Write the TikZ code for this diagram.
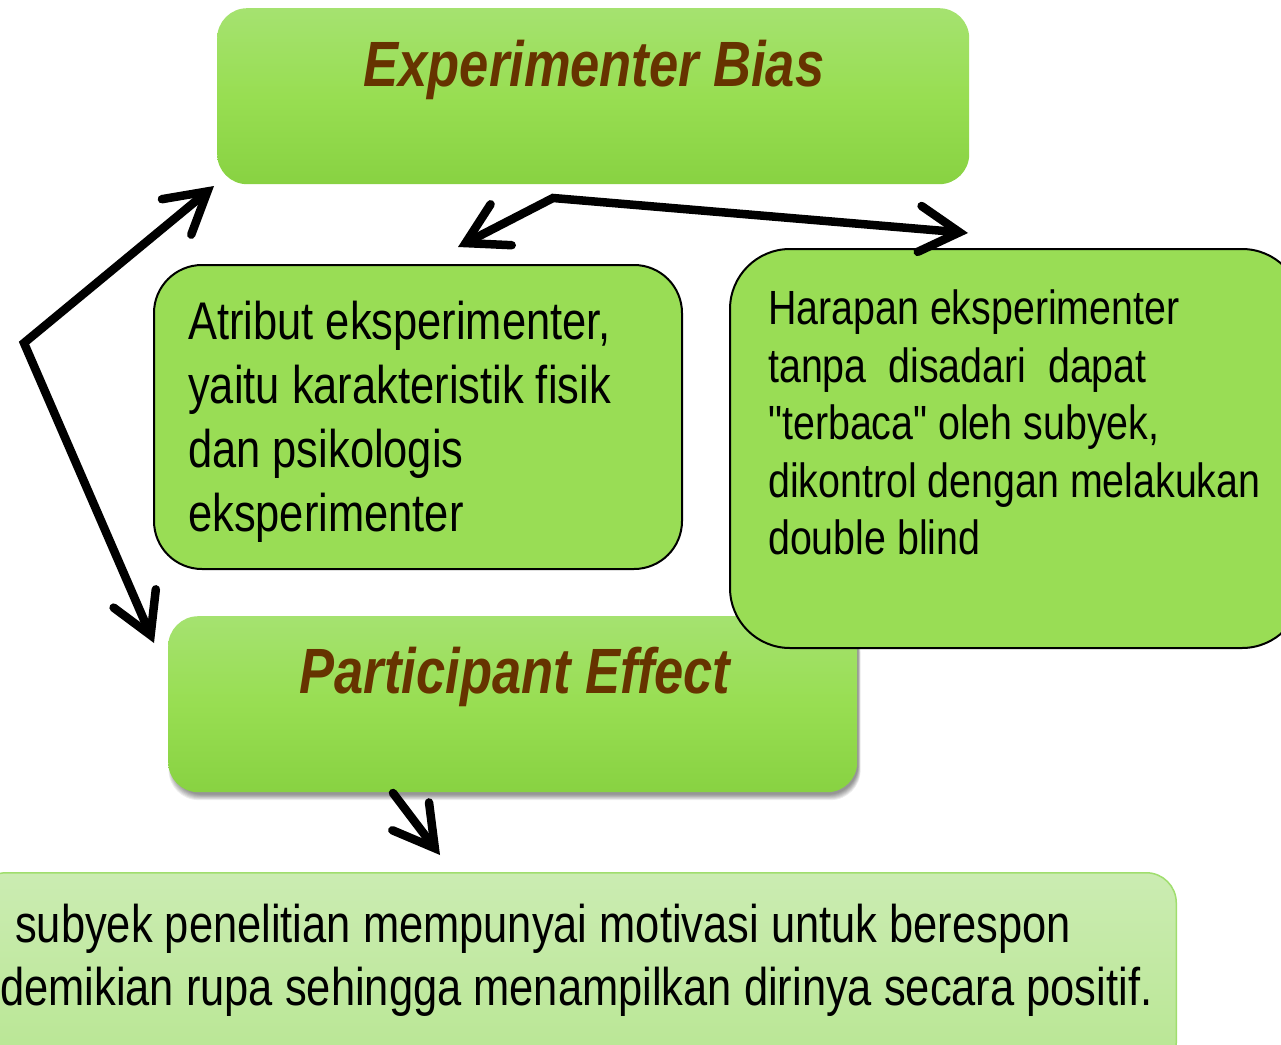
\documentclass[tikz,border=0pt]{standalone}
\usepackage{fontspec}
\setmainfont{Liberation Sans}[FakeStretch=0.82, Ligatures=TeXOff]
\usetikzlibrary{arrows.meta}
\definecolor{titlebrown}{RGB}{102,51,0}
\definecolor{gtop}{RGB}{165,226,112}
\definecolor{gmid}{RGB}{152,222,82}
\definecolor{gbot}{RGB}{136,210,66}
\definecolor{boxgreen}{RGB}{153,221,85}
\definecolor{paletop}{RGB}{203,236,178}
\definecolor{palebot}{RGB}{184,230,146}
\definecolor{paleedge}{RGB}{160,222,110}
\tikzset{
  x=1pt, y=-1pt,
  headbox/.style={rectangle, rounded corners=30pt, inner sep=0pt,
    top color=gtop, bottom color=gbot, middle color=gmid, draw=none},
  notebox/.style={rectangle, inner sep=0pt, draw=black, line width=2pt, fill=boxgreen},
  palebox/.style={rectangle, rounded corners=30pt, inner sep=0pt,
    top color=paletop, bottom color=palebot, draw=paleedge, line width=1.5pt},
  headtext/.style={font=\fontsize{64}{70}\selectfont\bfseries\itshape, text=titlebrown, inner sep=0pt},
  bodytext/.style={align=left, inner sep=0pt, anchor=north west},
  link/.style={line width=8.5pt, line cap=round, line join=miter,
    {Straight Barb[length=40pt,width=46pt,line cap=round]}-{Straight Barb[length=40pt,width=46pt,line cap=round]}},
  onelink/.style={line width=8.5pt, line cap=round,
    -{Straight Barb[length=40pt,width=46pt,line cap=round]}}
}
\begin{document}
\begin{tikzpicture}
\useasboundingbox (0,0) rectangle (1281,1044);
\fill[white] (0,0) rectangle (1281,1044);

% heading boxes
\node[headbox, minimum width=752pt, minimum height=176pt, anchor=north west] (eb) at (217,8) {};
\node[headtext] (ebt) at (594,70) {Experimenter Bias};

% soft shadow under the second heading box
\foreach \g in {1,...,7} {
  \fill[black, opacity=0.07, rounded corners=30pt]
    (168+\g*0.6, 616+8-\g*0.4) rectangle (857+4-\g*0.4, 792+9-\g*0.9);
}
\node[headbox, minimum width=689pt, minimum height=176pt, anchor=north west] (pe) at (168,616) {};
\node[headtext] (pet) at (515,677) {Participant Effect};

% explanation boxes
\node[notebox, rounded corners=48pt, minimum width=528pt, minimum height=304pt, anchor=north west] (at) at (153,264) {};
\node[bodytext, font=\fontsize{53}{64}\selectfont] (att) at (188,301)
  {Atribut eksperimenter,\\yaitu karakteristik fisik\\dan psikologis\\eksperimenter};

\node[notebox, rounded corners=60pt, minimum width=572pt, minimum height=399pt, anchor=north west] (hp) at (729,248) {};
\node[bodytext, font=\fontsize{48}{57.5}\selectfont] (hpt) at (768,290)
  {Harapan eksperimenter\\tanpa\ \ disadari\ \ dapat\\"terbaca" oleh subyek,\\dikontrol dengan melakukan\\double blind};

% outcome box
\node[palebox, minimum width=1200pt, minimum height=200pt, anchor=north east] (ps) at (1177,872) {};
\node[bodytext, font=\fontsize{53}{63}\selectfont] (pst) at (0,904)
  {\hspace*{15pt}subyek penelitian mempunyai motivasi untuk berespon\\demikian rupa sehingga menampilkan dirinya secara positif.};

% connectors
\coordinate (c1) at (24,343);
\coordinate (c2) at (553,198);
\coordinate (ebL) at (214,186);
\coordinate (peL) at (154,643);
\coordinate (atT) at (458,247);
\coordinate (hpT) at (968,233);
\coordinate (peB) at (393,793);
\coordinate (psT) at (440,855);
\draw[link] (ebL) -- (c1) -- (peL);
\draw[link] (atT) -- (c2) -- (hpT);
\draw[onelink] (peB) -- (psT);
\end{tikzpicture}
\end{document}
